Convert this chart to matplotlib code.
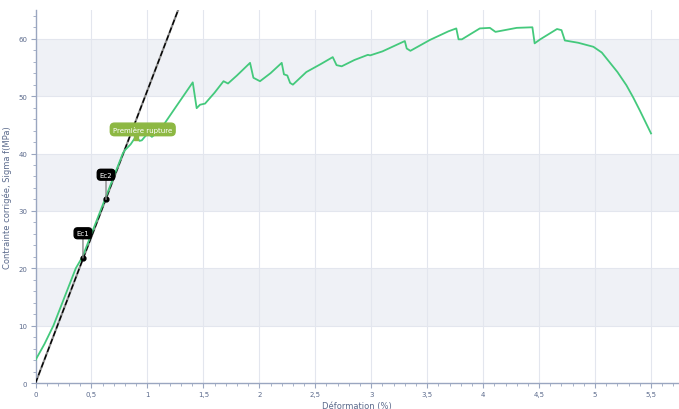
import numpy as np
import matplotlib.pyplot as plt
from matplotlib.ticker import MultipleLocator, FuncFormatter

# courbe contrainte / déformation
deformation = [0.0, 0.08, 0.16, 0.26, 0.36, 0.42, 0.50, 0.60, 0.70, 0.78, 0.80, 0.85,
               0.898, 0.93, 0.95, 0.98, 1.008, 1.04, 1.11, 1.25, 1.405, 1.44, 1.47,
               1.515, 1.60, 1.68, 1.72, 1.80, 1.917, 1.947, 2.006, 2.10, 2.20, 2.22,
               2.25, 2.275, 2.30, 2.42, 2.55, 2.656, 2.69, 2.736, 2.85, 2.97, 2.99,
               3.10, 3.30, 3.317, 3.35, 3.525, 3.69, 3.76, 3.78, 3.81, 3.97, 4.06,
               4.11, 4.30, 4.44, 4.46, 4.51, 4.66, 4.70, 4.73, 4.85, 4.985, 5.06,
               5.13, 5.20, 5.28, 5.34, 5.40, 5.45, 5.50]
contrainte = [4.0, 6.8, 10.0, 15.0, 20.0, 22.0, 26.0, 31.0, 36.0, 40.0, 40.6, 41.6,
              43.0, 42.2, 42.3, 43.0, 43.5, 42.9, 44.0, 48.0, 52.4, 47.9, 48.5,
              48.7, 50.6, 52.6, 52.2, 53.6, 55.8, 53.2, 52.6, 54.0, 55.8, 53.8,
              53.6, 52.3, 52.0, 54.2, 55.6, 56.8, 55.4, 55.2, 56.3, 57.2, 57.1,
              57.8, 59.6, 58.3, 57.9, 59.8, 61.3, 61.8, 59.9, 59.9, 61.8, 61.9,
              61.2, 61.9, 62.0, 59.2, 59.9, 61.7, 61.5, 59.7, 59.3, 58.6, 57.6,
              55.9, 54.2, 51.9, 49.8, 47.5, 45.5, 43.5]

# droite du module (MPa / %)
module_pente = 51.0
module_x = [0.0, 1.3]

# points Ec1 / Ec2
ec_noms = ["Ec1", "Ec2"]
ec_x = [0.424, 0.63]
ec_y = [21.8, 32.0]

# première rupture
rupture_x = 0.898
rupture_y = 42.7

couleur_texte = "#5b6a8c"
couleur_axe = "#9aa6c0"
couleur_grille = "#e3e6ee"
couleur_bande = "#eff1f6"

fig = plt.figure(figsize=(6.79, 4.10), dpi=100)
ax = fig.add_axes([0.0523, 0.0634, 0.9477, 0.9096])

ax.set_xlim(0, 5.75)
ax.set_ylim(0, 65)

# bandes horizontales alternées
for y0 in range(10, 65, 20):
    ax.axhspan(y0, y0 + 10, color=couleur_bande, zorder=0, lw=0)

for xv in np.arange(0.5, 5.75, 0.5):
    ax.axvline(xv, color=couleur_grille, lw=0.8, zorder=0.5)
for yv in range(10, 65, 10):
    ax.axhline(yv, color=couleur_grille, lw=0.8, zorder=0.5)

# droite du module : trait gris + tirets noirs
mx = np.array(module_x)
ax.plot(mx, module_pente * mx, color="#8a8a8a", lw=1.5, zorder=2)
ax.plot(mx, module_pente * mx, color="black", lw=1.0, ls=(0, (4, 2)), zorder=3)

ax.plot(deformation, contrainte, color="#44c97c", lw=1.3, zorder=4,
        solid_joinstyle="round")

# marqueurs Ec
ax.scatter(ec_x, ec_y, s=12, color="black", zorder=6)
for nom, x, y in zip(ec_noms, ec_x, ec_y):
    ax.annotate(nom, xy=(x, y), xytext=(x, y + 4.3), ha="center", va="center",
                fontsize=5, color="white", zorder=7,
                bbox=dict(boxstyle="round,pad=0.35,rounding_size=0.5",
                          fc="black", ec="black"),
                arrowprops=dict(arrowstyle="-", color="#8a8a8a", lw=1.0,
                                shrinkA=0, shrinkB=0))

ax.scatter([rupture_x], [rupture_y], marker="s", s=8, color="#8db843", zorder=6)
ax.annotate("Première rupture", xy=(rupture_x, rupture_y),
            xytext=(rupture_x + 0.06, rupture_y + 1.5), ha="center", va="center",
            fontsize=5, color="white", zorder=7,
            bbox=dict(boxstyle="round,pad=0.4,rounding_size=0.6",
                      fc="#8db843", ec="#8db843"))

# axes
for cote in ["top", "right"]:
    ax.spines[cote].set_visible(False)
for cote in ["left", "bottom"]:
    ax.spines[cote].set_color(couleur_axe)
    ax.spines[cote].set_linewidth(1.0)

ax.xaxis.set_major_locator(MultipleLocator(0.5))
ax.xaxis.set_minor_locator(MultipleLocator(0.1))
ax.yaxis.set_major_locator(MultipleLocator(10))
ax.yaxis.set_minor_locator(MultipleLocator(2))
virgule = FuncFormatter(lambda v, p: ("%g" % v).replace(".", ","))
ax.xaxis.set_major_formatter(virgule)
ax.tick_params(which="both", colors=couleur_axe, labelcolor=couleur_texte,
               labelsize=5, direction="out")
ax.tick_params(which="major", length=3.5, width=0.8, pad=2.5)
ax.tick_params(which="minor", length=2.5, width=0.6)

ax.set_xlabel("Déformation (%)", fontsize=6, color=couleur_texte)
ax.set_ylabel("Contrainte corrigée, Sigma f(MPa)", fontsize=6, color=couleur_texte)
ax.xaxis.set_label_coords(0.5, -0.048)
ax.yaxis.set_label_coords(-0.036, 0.5)

fig.savefig("out.png", dpi=100)
